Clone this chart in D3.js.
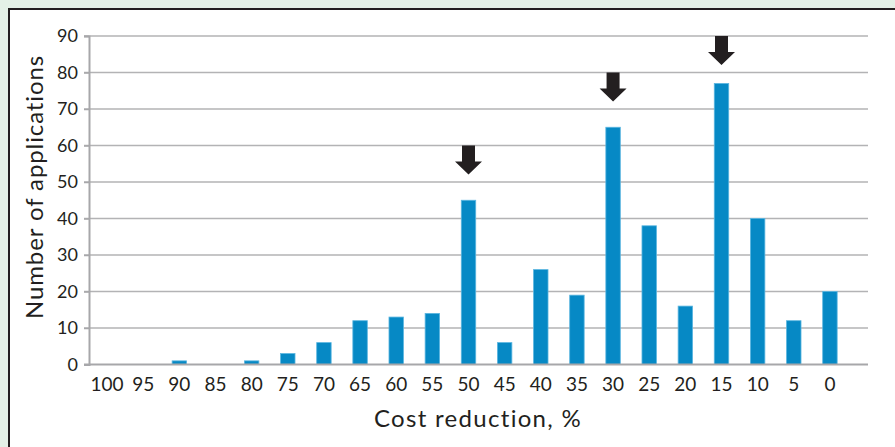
<!DOCTYPE html>
<html>
<head>
<meta charset="utf-8">
<script src="https://cdn.jsdelivr.net/npm/d3@7"></script>
<style>
  body { margin: 0; background: #e4f1e7; }
  svg { display: block; }
  text { font-family: "Lato", "Noto Sans", sans-serif; fill: #231f20; }
</style>
</head>
<body>
<div class="chart"></div>
<script>
const categories = ["100","95","90","85","80","75","70","65","60","55","50","45","40","35","30","25","20","15","10","5","0"];
const applications = [0,0,1,0,1,3,6,12,13,14,45,6,26,19,65,38,16,77,40,12,20];
const yTicks = [0,10,20,30,40,50,60,70,80,90];
// arrows mark the peaks; start value (top of arrow)
const arrowCats = ["50","30","15"];
const arrowTops = [60,80,90];

const W = 895, H = 447;
const plot = {left: 89, right: 848, gridRight: 868, top: 36, bottom: 364.5};

const svg = d3.select('.chart').append('svg')
    .attr('width', W)
    .attr('height', H);

// white panel with dark top/left border
svg.append('rect')
    .attr('x', 9).attr('y', 9)
    .attr('width', W).attr('height', H)
    .attr('fill', 'white');
svg.append('path')
    .attr('d', `M9,${H} V9 H${W}`)
    .attr('fill', 'none')
    .attr('stroke', '#231f20')
    .attr('stroke-width', 2);

const x = d3.scaleBand()
    .domain(categories)
    .range([plot.left, plot.right])
    .paddingInner(0.6)
    .paddingOuter(0.3);

const y = d3.scaleLinear()
    .domain([0, 90])
    .range([plot.bottom, plot.top]);

// gridlines
svg.append('g')
    .selectAll('line')
    .data(yTicks.filter(d => d > 0))
    .enter()
    .append('line')
    .attr('x1', plot.left - 5)
    .attr('x2', plot.gridRight)
    .attr('y1', d => y(d))
    .attr('y2', d => y(d))
    .attr('stroke', '#b3b3b5')
    .attr('stroke-width', 1.5);

// y axis
const yAxis = d3.axisLeft(y)
    .tickValues(yTicks)
    .tickSize(5)
    .tickPadding(6);
const gy = svg.append('g')
    .attr('transform', `translate(${plot.left},0)`)
    .call(yAxis);
gy.select('.domain').attr('stroke', '#a7a7aa').attr('stroke-width', 2);
gy.selectAll('.tick line').attr('stroke', '#a7a7aa').attr('stroke-width', 1.5);
gy.selectAll('.tick text').style('font-size', '18px').attr('fill', '#231f20');

// bars
svg.append('g')
    .selectAll('rect')
    .data(applications)
    .enter()
    .append('rect')
    .attr('x', (d, i) => x(categories[i]))
    .attr('width', x.bandwidth())
    .attr('y', d => y(d))
    .attr('height', d => y(0) - y(d))
    .attr('fill', '#0689c5')
    .attr('stroke', '#5bb6e0')
    .attr('stroke-width', 0.8);

// x axis baseline
svg.append('line')
    .attr('x1', plot.left - 5)
    .attr('x2', plot.gridRight)
    .attr('y1', y(0))
    .attr('y2', y(0))
    .attr('stroke', '#a7a7aa')
    .attr('stroke-width', 2);

const xAxis = d3.axisBottom(x).tickSize(0).tickPadding(13);
const gx = svg.append('g')
    .attr('transform', `translate(0,${y(0)})`)
    .call(xAxis);
gx.select('.domain').remove();
gx.selectAll('.tick text').style('font-size', '19px').attr('fill', '#231f20');

// arrows
const arrowShape = (cx, top) => {
    const sw = 6.5, hw = 13.5, shaft = 16, head = 13;
    return `M${cx - sw},${top} H${cx + sw} V${top + shaft} H${cx + hw} L${cx},${top + shaft + head} L${cx - hw},${top + shaft} H${cx - sw} Z`;
};
svg.append('g')
    .selectAll('path')
    .data(arrowCats)
    .enter()
    .append('path')
    .attr('d', (d, i) => arrowShape(x(d) + x.bandwidth() / 2, y(arrowTops[i])))
    .attr('fill', '#231f20');

// axis titles
svg.append('text')
    .attr('x', 478)
    .attr('y', 427)
    .attr('text-anchor', 'middle')
    .style('font-size', '24px')
    .style('letter-spacing', '1.3px')
    .text('Cost reduction, %');

svg.append('text')
    .attr('transform', `translate(43,187) rotate(-90)`)
    .attr('text-anchor', 'middle')
    .style('font-size', '24px')
    .style('letter-spacing', '0.9px')
    .text('Number of applications');
</script>
</body>
</html>
